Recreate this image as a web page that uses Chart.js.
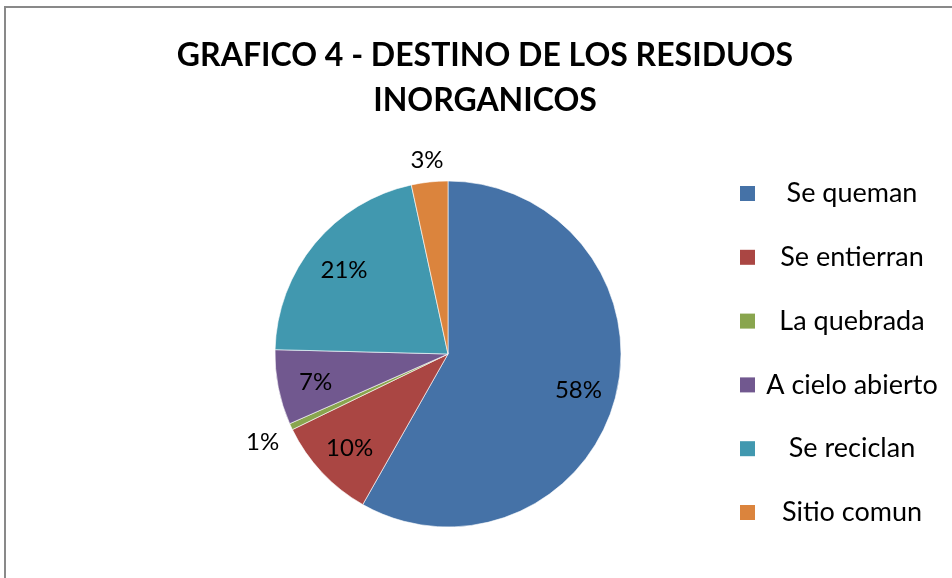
<!DOCTYPE html>
<html><head><meta charset="utf-8">
<script src="https://cdn.jsdelivr.net/npm/chart.js@4.4.1/dist/chart.umd.min.js"></script>
<style>
html,body{margin:0;padding:0;background:#fff;overflow:hidden;width:952px;height:578px;}
#frame{position:absolute;left:4px;top:6px;width:1200px;height:1200px;border:2px solid #898989;box-sizing:border-box;}
#wrap{position:absolute;left:0;top:0;width:952px;height:578px;}
</style></head><body>
<div id="frame"></div>
<div id="wrap"><canvas id="c" width="952" height="578"></canvas></div>
<script>
const titleLines = ['GRAFICO 4 - DESTINO DE LOS RESIDUOS', 'INORGANICOS'];
const categories = ['Se queman', 'Se entierran', 'La quebrada', 'A cielo abierto', 'Se reciclan', 'Sitio comun'];
const percentValues = [58.2, 9.6, 0.6, 7.0, 21.2, 3.4];
const sliceColors = ['#4572A7', '#AA4643', '#89A54E', '#71588F', '#4198AF', '#DB843D'];

// Legend drawn in a layout box on the right side
const sideLegend = {
  id: 'sideLegend',
  beforeInit(chart) {
    const box = {
      position: 'right', weight: 0, fullSize: false, options: {},
      left: 0, top: 0, right: 0, bottom: 0, width: 0, height: 0,
      isHorizontal() { return false; },
      update(maxW, maxH) { this.width = 74; this.height = maxH; },
      draw() {
        const ctx = chart.ctx;
        ctx.save();
        ctx.font = '27px Lato';
        ctx.textBaseline = 'middle';
        ctx.textAlign = 'center';
        categories.forEach((name, i) => {
          const cy = 193.5 + i * 63.8;
          ctx.fillStyle = sliceColors[i];
          ctx.fillRect(740, cy - 7.5, 15, 15);
          ctx.fillStyle = '#000';
          ctx.fillText(name, 852, cy);
        });
        ctx.restore();
      }
    };
    Chart.layouts.addBox(chart, box);
  }
};

// Percentage labels on slices
const sliceLabels = {
  id: 'sliceLabels',
  afterDatasetsDraw(chart) {
    const meta = chart.getDatasetMeta(0);
    const ctx = chart.ctx;
    ctx.save();
    ctx.font = '24px Lato';
    ctx.fillStyle = '#000';
    ctx.textAlign = 'center';
    ctx.textBaseline = 'middle';
    meta.data.forEach((arc, i) => {
      const p = arc.getProps(['x', 'y', 'startAngle', 'endAngle', 'outerRadius'], true);
      const mid = (p.startAngle + p.endAngle) / 2;
      const text = Math.round(percentValues[i]) + '%';
      const c = Math.cos(mid), s = Math.sin(mid);
      let d;
      if (percentValues[i] >= 5) {
        d = p.outerRadius * 0.78;
      } else {
        const hw = ctx.measureText(text).width / 2;
        d = p.outerRadius + 12 + Math.abs(c) * hw + Math.abs(s) * 10;
      }
      ctx.fillText(text, p.x + c * d, p.y + s * d + 2);
    });
    ctx.restore();
  }
};

new Chart(document.getElementById('c'), {
  type: 'pie',
  data: {
    labels: categories,
    datasets: [{
      data: percentValues,
      backgroundColor: sliceColors,
      borderColor: 'rgba(255,255,255,0.6)',
      borderWidth: 1,
      radius: 173,
      hoverOffset: 0
    }]
  },
  options: {
    responsive: false,
    devicePixelRatio: 1,
    animation: false,
    layout: { padding: { top: 0, left: 18, right: 0, bottom: 51 } },
    plugins: {
      legend: { display: false },
      tooltip: { enabled: false },
      title: {
        display: true,
        text: titleLines,
        color: '#000',
        font: { family: 'Lato', weight: 'bold', size: 32, lineHeight: 1.406 },
        padding: { top: 33, bottom: 58 }
      }
    }
  },
  plugins: [sideLegend, sliceLabels]
});
</script>
</body></html>
